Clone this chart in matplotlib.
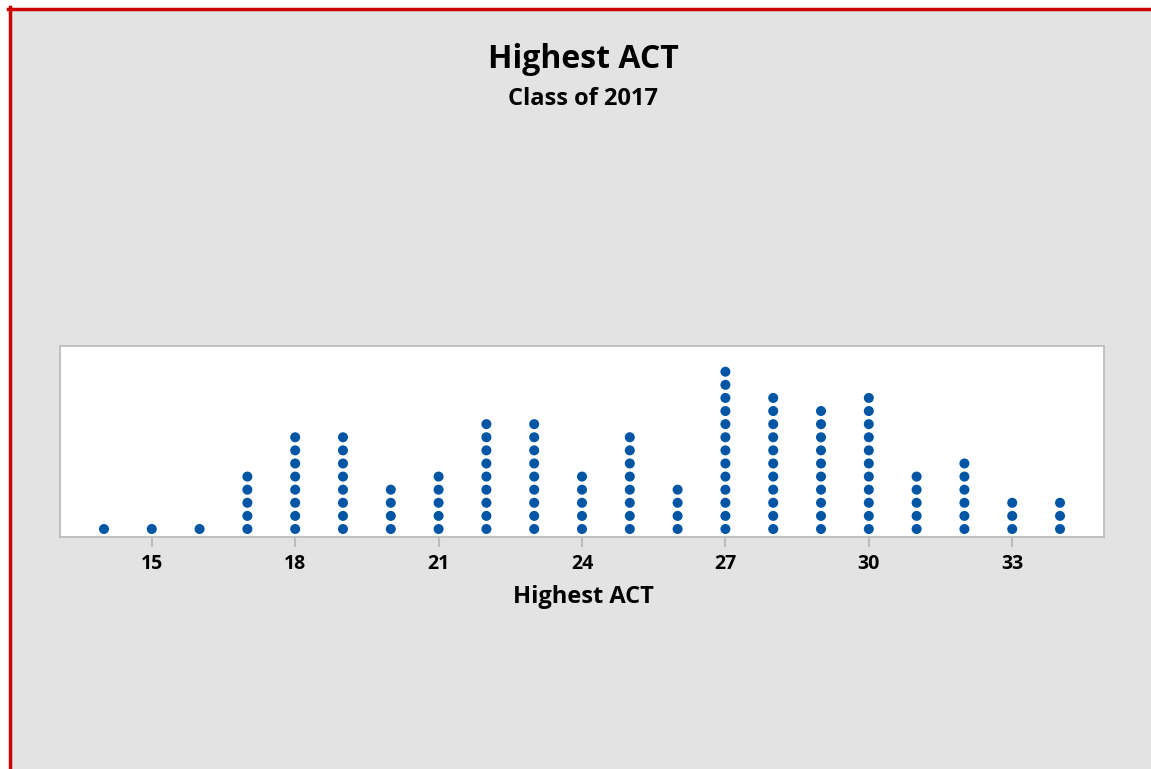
import numpy as np
import matplotlib.pyplot as plt
from matplotlib.lines import Line2D

# Highest ACT score and number of students with that score
scores = [14, 15, 16, 17, 18, 19, 20, 21, 22, 23, 24, 25, 26, 27, 28, 29, 30, 31, 32, 33, 34]
counts = [1, 1, 1, 5, 8, 8, 4, 5, 9, 9, 5, 8, 4, 13, 11, 10, 11, 5, 6, 3, 3]
tick_values = [15, 18, 21, 24, 27, 30, 33]

title = 'Highest ACT'
subtitle = 'Class of 2017'
x_label = 'Highest ACT'

plt.rcParams['font.family'] = ['Open Sans', 'DejaVu Sans']

bg = '#e3e3e3'
dot_color = '#0055a5'
frame_grey = '#bdbdbd'

fig = plt.figure(figsize=(11.51, 7.69), dpi=100, facecolor=bg)
ax = fig.add_axes([60 / 1151, 1 - 537 / 769, 1044 / 1151, 191.5 / 769])
ax.set_facecolor('white')

# stack one dot per student above each score
xs = np.repeat(scores, counts)
ys = np.concatenate([np.arange(c) for c in counts])
ax.scatter(xs, ys, s=52, color=dot_color, edgecolors='none', zorder=3)

ax.set_xlim(13.08, 34.92)
ax.set_ylim(-0.61, 14.0)
ax.set_yticks([])
ax.set_xticks(tick_values)
ax.set_xticklabels([str(t) for t in tick_values], fontsize=14, fontweight='bold')
ax.tick_params(axis='x', direction='out', length=7, width=1.5, color=frame_grey, pad=5)
for side in ax.spines.values():
    side.set_color(frame_grey)
    side.set_linewidth(1.3)

fig.text(0.5065, 1 - 60 / 769, title, ha='center', va='center', fontsize=23, fontweight='bold')
fig.text(0.5065, 1 - 99 / 769, subtitle, ha='center', va='center', fontsize=17, fontweight='bold')
fig.text(0.5065, 1 - 597 / 769, x_label, ha='center', va='center', fontsize=17, fontweight='bold')

# red frame along left and top edges
red = '#cc0000'
fig.add_artist(Line2D([9.5 / 1151, 9.5 / 1151], [0, 1 - 7 / 769], color=red, lw=2.5, transform=fig.transFigure))
fig.add_artist(Line2D([8 / 1151, 1], [1 - 8.5 / 769, 1 - 8.5 / 769], color=red, lw=2.5, transform=fig.transFigure))
fig.add_artist(plt.Rectangle((0, 1 - 7 / 769), 1, 7 / 769, color='white', transform=fig.transFigure, zorder=-1))
fig.add_artist(plt.Rectangle((0, 0), 8 / 1151, 1, color='white', transform=fig.transFigure, zorder=-1))

fig.savefig('out.png', dpi=100, facecolor=bg)
